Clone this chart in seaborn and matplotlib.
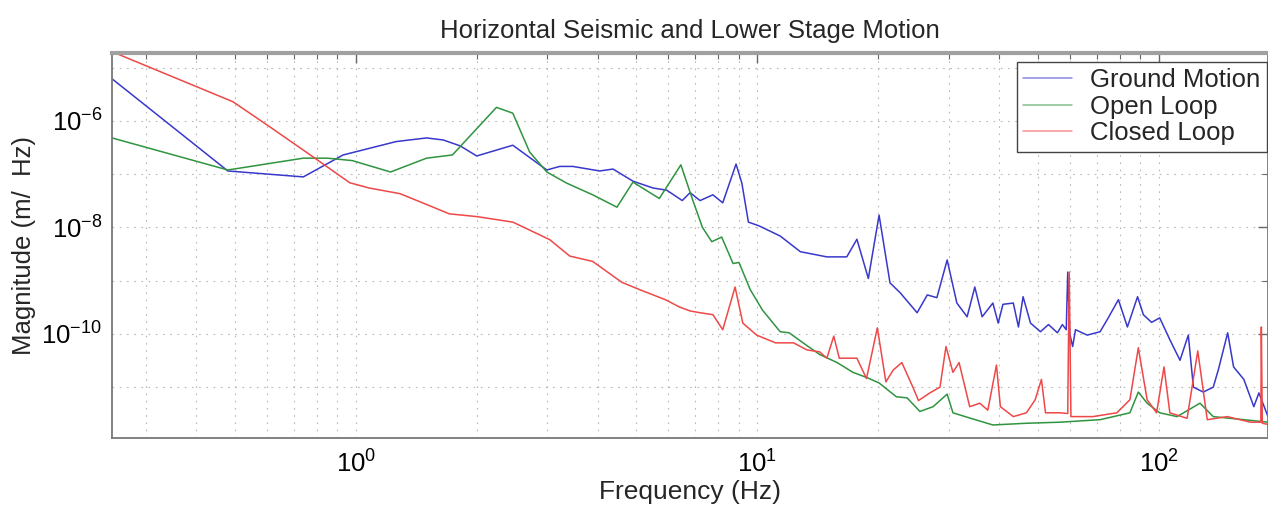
import numpy as np
import pandas as pd
import seaborn as sns
import matplotlib
matplotlib.use('Agg')
import matplotlib.pyplot as plt
from matplotlib.ticker import FixedLocator, LogLocator, NullFormatter

# values
ground_freq = [0.247, 0.48, 0.74, 0.93, 1.26, 1.50, 1.65, 1.82, 2.0, 2.46, 2.99, 3.22, 3.47,
               4.05, 4.37, 4.9, 5.5, 5.95, 6.5, 6.8, 7.2, 7.75, 8.2, 8.85, 9.15, 9.5, 10.1,
               11.4, 12.8, 14.9, 16.7, 17.7, 18.9, 20.1, 21.4, 22.7, 25.0, 26.5, 28.0, 29.7,
               31.4, 33.3, 34.8, 36.3, 38.6, 39.8, 40.9, 43.4, 44.7, 45.9, 47.9, 50.7, 53.1,
               55.9, 57.5, 58.8, 59.3, 60.0, 61.0, 62.0, 66.3, 71.4, 74.8, 79.3, 83.5, 88.5,
               91.5, 95.9, 100.5, 106.5, 112.9, 118.4, 121.9, 129.0, 136.6, 140.6, 148.4,
               153.5, 162.8, 172.4, 177.5, 187.0]
ground_mag = [6.2e-6, 1.15e-7, 8.9e-8, 2.3e-7, 4.1e-7, 4.8e-7, 4.4e-7, 3.4e-7, 2.2e-7, 3.5e-7,
              1.2e-7, 1.4e-7, 1.4e-7, 1.15e-7, 1.25e-7, 7.4e-8, 5.5e-8, 5.0e-8, 3.2e-8, 4.5e-8,
              3.2e-8, 4.1e-8, 2.9e-8, 1.55e-7, 6.8e-8, 1.26e-8, 1.07e-8, 6.9e-9, 3.5e-9, 2.8e-9,
              2.8e-9, 6.0e-9, 1.1e-9, 1.7e-8, 9.1e-10, 5.9e-10, 2.5e-10, 5.4e-10, 4.8e-10,
              2.45e-9, 3.8e-10, 2.1e-10, 7.6e-10, 2.1e-10, 3.8e-10, 1.6e-10, 3.6e-10, 3.8e-10,
              1.35e-10, 5.0e-10, 1.6e-10, 1.1e-10, 1.5e-10, 1.05e-10, 1.5e-10, 1.2e-10,
              1.45e-9, 1.0e-10, 5.8e-11, 1.2e-10, 9.5e-11, 1.1e-10, 2.0e-10, 4.4e-10, 1.35e-10,
              5.0e-10, 2.3e-10, 1.65e-10, 2.0e-10, 7.8e-11, 3.2e-11, 9.5e-11, 1.0e-11, 8.1e-12,
              1.0e-11, 2.1e-11, 1.05e-10, 2.4e-11, 1.4e-11, 4.3e-12, 7.8e-12, 2.8e-12]

open_freq = [0.247, 0.48, 0.74, 0.85, 0.98, 1.22, 1.5, 1.74, 2.24, 2.46, 2.71, 2.99, 3.35,
             3.89, 4.47, 4.9, 5.7, 6.45, 6.9, 7.3, 7.7, 8.15, 8.7, 9.0, 9.6, 10.3, 11.4, 12.0,
             13.0, 14.3, 15.8, 17.3, 18.8, 20.1, 22.2, 23.6, 25.4, 27.4, 29.7, 30.7, 34.0,
             38.6, 46.8, 56.8, 71.4, 84.7, 88.9, 93.5, 100.5, 111.0, 126.6, 136.6, 162.8, 187.0]
open_mag = [4.8e-7, 1.2e-7, 2.0e-7, 2.0e-7, 1.8e-7, 1.1e-7, 2.0e-7, 2.3e-7, 1.8e-6, 1.4e-6,
            2.6e-7, 1.1e-7, 6.8e-8, 4.1e-8, 2.4e-8, 7.1e-8, 3.5e-8, 1.5e-7, 3.3e-8, 1.0e-8,
            5.4e-9, 6.6e-9, 2.1e-9, 2.2e-9, 6.8e-10, 2.8e-10, 1.1e-10, 1.05e-10, 6.8e-11,
            4.1e-11, 2.9e-11, 1.9e-11, 1.5e-11, 1.2e-11, 6.6e-12, 6.3e-12, 3.5e-12, 4.3e-12,
            7.4e-12, 3.3e-12, 2.6e-12, 1.95e-12, 2.1e-12, 2.2e-12, 2.45e-12, 3.3e-12, 8.1e-12,
            5.0e-12, 3.3e-12, 2.8e-12, 5.0e-12, 2.8e-12, 2.45e-12, 2.2e-12]

closed_freq = [0.247, 0.494, 0.61, 0.77, 0.966, 1.08, 1.29, 1.71, 2.0, 2.46, 3.04, 3.41, 3.89,
               4.6, 5.09, 5.9, 6.4, 6.8, 7.2, 7.75, 8.2, 8.8, 9.2, 9.96, 11.1, 12.3, 13.3, 14.3,
               14.9, 15.5, 16.0, 17.7, 18.7, 19.9, 20.9, 21.8, 22.9, 24.4, 25.2, 26.9, 28.5,
               29.5, 30.7, 31.8, 33.8, 35.8, 37.5, 39.4, 40.3, 43.4, 46.8, 49.2, 51.0, 52.2,
               56.8, 59.3, 59.8, 60.4, 68.5, 78.6, 84.7, 88.9, 93.5, 98.7, 103.0, 106.5, 117.6,
               125.0, 132.0, 148.0, 169.0, 179.5, 180.0, 181.0, 187.0]
closed_mag = [2.0e-5, 2.3e-6, 7.8e-7, 2.3e-7, 6.9e-8, 5.5e-8, 4.3e-8, 1.8e-8, 1.6e-8, 1.26e-8,
              5.9e-9, 2.9e-9, 2.3e-9, 9.3e-10, 6.8e-10, 4.4e-10, 3.2e-10, 2.7e-10, 2.5e-10,
              2.3e-10, 1.2e-10, 7.6e-10, 1.6e-10, 9.5e-11, 6.8e-11, 6.8e-11, 5.0e-11, 4.6e-11,
              3.5e-11, 9.1e-11, 3.5e-11, 3.5e-11, 1.45e-11, 1.3e-10, 1.26e-11, 2.1e-11, 2.9e-11,
              1.0e-11, 5.6e-12, 7.8e-12, 1.0e-11, 5.8e-11, 1.9e-11, 2.9e-11, 4.3e-12, 5.0e-12,
              3.7e-12, 2.6e-11, 4.3e-12, 2.8e-12, 3.3e-12, 5.8e-12, 1.4e-11, 3.3e-12, 3.3e-12,
              3.2e-12, 1.45e-9, 2.8e-12, 2.8e-12, 3.3e-12, 5.8e-12, 5.5e-11, 5.8e-12, 3.3e-12,
              2.4e-11, 3.3e-12, 2.6e-12, 4.8e-11, 2.45e-12, 2.8e-12, 2.2e-12, 2.2e-12, 1.35e-10,
              2.1e-12, 2.0e-12]

df = pd.concat([
    pd.DataFrame({'freq': ground_freq, 'mag': ground_mag, 'series': 'Ground Motion'}),
    pd.DataFrame({'freq': open_freq, 'mag': open_mag, 'series': 'Open Loop'}),
    pd.DataFrame({'freq': closed_freq, 'mag': closed_mag, 'series': 'Closed Loop'}),
])

sns.set_style('white')
plt.rcParams['font.family'] = ['Liberation Sans', 'DejaVu Sans']

fig = plt.figure(figsize=(12.68, 5.21), dpi=100)
ax = fig.add_axes([112 / 1268, 1 - 438 / 521, 1156 / 1268, 385 / 521])

colors = {'Ground Motion': '#3838cc', 'Open Loop': '#2f9440', 'Closed Loop': '#ee4848'}
sns.lineplot(data=df, x='freq', y='mag', hue='series', palette=colors, estimator=None,
             sort=False, linewidth=1.1, ax=ax)

ax.set_xscale('log')
ax.set_yscale('log')
ax.set_xlim(0.247, 187)
ax.set_ylim(1.11e-12, 1.89e-5)

ax.yaxis.set_major_locator(FixedLocator([1e-12, 1e-10, 1e-8, 1e-6, 1e-4]))
ax.yaxis.set_minor_locator(FixedLocator([1e-11, 1e-9, 1e-7, 1e-5]))
ax.yaxis.set_minor_formatter(NullFormatter())
ax.xaxis.set_minor_locator(LogLocator(base=10, subs=np.arange(2, 10)))
ax.xaxis.set_minor_formatter(NullFormatter())

gstyle = dict(color='#b8b8b8', linestyle=(0, (1.5, 5)), linewidth=0.8)
ax.grid(True, which='both', axis='x', **gstyle)
ax.grid(True, which='both', axis='y', **gstyle)

ax.tick_params(which='both', direction='in', top=True, right=True, colors='#666666',
               labelcolor='black', labelsize=18.5)
ax.tick_params(which='major', length=7, width=1)
ax.tick_params(which='minor', length=4, width=0.8)
ax.tick_params(axis='x', pad=9)
ax.tick_params(axis='y', pad=7)

for side in ['left', 'bottom', 'right']:
    ax.spines[side].set_color('#777777')
    ax.spines[side].set_linewidth(1.3)
ax.spines['top'].set_color('#a0a0a0')
ax.spines['top'].set_linewidth(3)

ax.set_title('Horizontal Seismic and Lower Stage Motion', fontsize=18.5, pad=11)
ax.set_xlabel('Frequency (Hz)', fontsize=19, labelpad=2)
ax.set_ylabel('Magnitude (m/  Hz)', fontsize=18.5, labelpad=4)

leg = ax.legend(loc='upper right', bbox_to_anchor=(0.999, 0.977), borderaxespad=0,
                fontsize=18.5, fancybox=False, framealpha=1, edgecolor='#444444',
                handlelength=1.9, labelspacing=0.1, borderpad=0.25, handletextpad=0.7)
leg.get_frame().set_linewidth(1.0)
for line in leg.get_lines():
    line.set_alpha(0.6)

fig.savefig('out.png', dpi=100)
